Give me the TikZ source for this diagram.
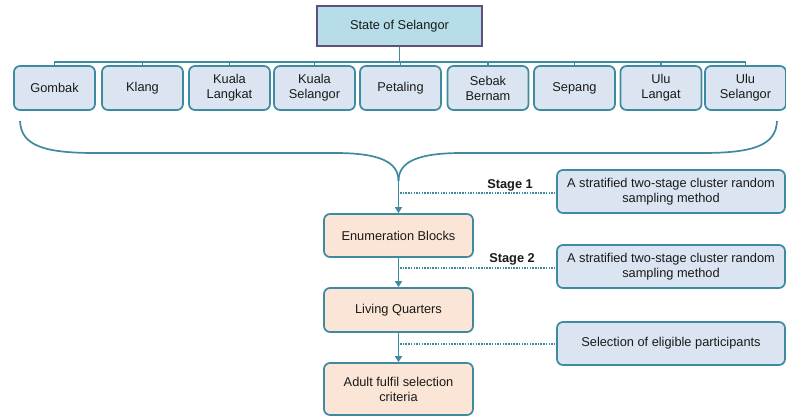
\documentclass[tikz,border=0pt]{standalone}
\usepackage{fontspec}
\setmainfont{Liberation Sans}
\usetikzlibrary{arrows.meta}
\definecolor{teal1}{HTML}{3E8AA0}
\definecolor{bluefill}{HTML}{DBE5F1}
\definecolor{peach}{HTML}{FBE5D6}
\definecolor{topfill}{HTML}{B7DEE8}
\definecolor{topborder}{HTML}{5F4F7F}
\definecolor{txt}{HTML}{1A1A1A}
\tikzset{
  base/.style={rounded corners=6pt, line width=1.7pt, draw=teal1, align=center, inner sep=1pt, text=txt, font=\fontsize{12.8}{15}\selectfont},
  district/.style={base, fill=bluefill, minimum width=81pt, minimum height=44pt},
  infobox/.style={base, fill=bluefill, minimum width=228pt, minimum height=43pt},
  stepbox/.style={base, fill=peach, minimum width=149pt},
  topbox/.style={draw=topborder, fill=topfill, line width=1.7pt, text=txt, minimum width=165pt, minimum height=40pt, font=\fontsize{12.8}{15}\selectfont},
  link/.style={draw=teal1, line width=1.7pt},
  arr/.style={link, -{Triangle[width=7pt,length=6pt]}},
  dots/.style={draw=teal1, line width=1.6pt, dash pattern=on 1.5pt off 1.2pt},
  stagelbl/.style={font=\bfseries\fontsize{12.8}{15}\selectfont, text=txt, anchor=east, inner sep=0pt}
}
\begin{document}
\begin{tikzpicture}[x=1pt,y=-1pt]
\useasboundingbox (0,0) rectangle (786,417);
\node[topbox] (top) at (399.5,26) {State of Selangor};
\node[district] (d1) at (54.5,88) {Gombak};
\node[district] (d2) at (142.5,88) {Klang};
\node[district] (d3) at (229.5,88) {Kuala\\Langkat};
\node[district] (d4) at (314.5,88) {Kuala\\Selangor};
\node[district] (d5) at (400.5,88) {Petaling};
\node[district] (d6) at (488,88) {Sebak\\Bernam};
\node[district] (d7) at (574.5,88) {Sepang};
\node[district] (d8) at (661,88) {Ulu\\Langat};
\node[district] (d9) at (745.5,88) {Ulu\\Selangor};
\coordinate (bus) at (399.5,62);
\draw[link] (top.south) -- (bus);
\foreach \i in {1,...,9} {\draw[link] (d\i.north) |- (bus);}
% brace
\coordinate (bl) at (20,121);
\coordinate (br) at (777,121);
\coordinate (tip) at (398.5,181);
\draw[link] (bl) .. controls (21,146) and (45,153) .. (95,153) -- (335,153) .. controls (380,153) and (398.5,162) .. (tip);
\draw[link] (br) .. controls (776,146) and (752,153) .. (702,153) -- (462,153) .. controls (417,153) and (398.5,162) .. (tip);
% steps
\node[stepbox, minimum height=43pt] (enum) at (398.5,235.5) {Enumeration Blocks};
\node[stepbox, minimum height=44pt] (liv) at (398.5,310) {Living Quarters};
\node[stepbox, minimum height=52pt] (adult) at (398.5,389) {Adult fulfil selection\\criteria};
\draw[arr] (tip) -- (enum.north);
\draw[arr] (enum.south) -- (liv.north);
\draw[arr] (liv.south) -- (adult.north);
% info boxes
\node[infobox] (i1) at (671,191.5) {A stratified two-stage cluster random\\sampling method};
\node[infobox] (i2) at (671,266.5) {A stratified two-stage cluster random\\sampling method};
\node[infobox] (i3) at (671,343.5) {Selection of eligible participants};
\coordinate (s1) at (400,193);
\coordinate (s2) at (400,268);
\coordinate (s3) at (400,344);
\draw[dots] (s1) -- (s1 -| i1.west);
\draw[dots] (s2) -- (s2 -| i2.west);
\draw[dots] (s3) -- (s3 -| i3.west);
\node[stagelbl] (lab1) at (533,185) {Stage 1};
\node[stagelbl] (lab2) at (535,259) {Stage 2};
\end{tikzpicture}
\end{document}
